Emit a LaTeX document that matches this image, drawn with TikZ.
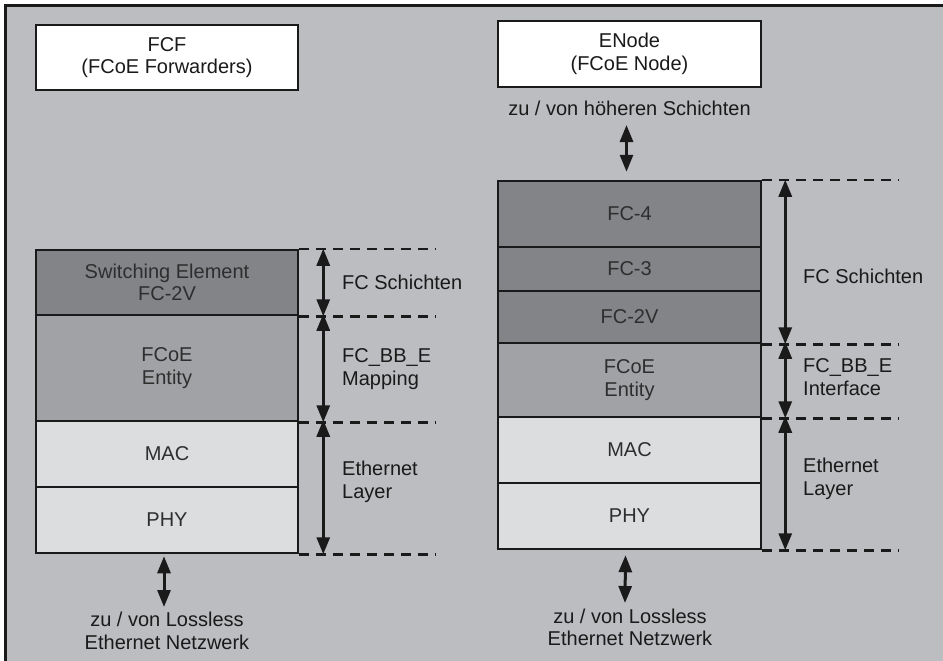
\documentclass[tikz,border=0pt]{standalone}
\usepackage{fontspec}
\setmainfont{Liberation Sans}
\usetikzlibrary{arrows.meta,positioning}
\definecolor{bggray}{HTML}{BCBDC0}
\definecolor{fcgray}{HTML}{838488}
\definecolor{entgray}{HTML}{A1A2A5}
\definecolor{ethgray}{HTML}{DCDDDF}
\definecolor{ink}{HTML}{1A1A1A}
\definecolor{boxtext}{HTML}{2E2E2E}
\begin{document}
\begin{tikzpicture}[x=1pt,y=-1pt,
  every node/.style={font=\fontsize{20}{22.5}\selectfont,text=ink},
  layer/.style={draw=ink,line width=2.5pt,rectangle,minimum width=262pt,inner sep=0pt,align=center,text=boxtext},
  guide/.style={draw=ink,line width=2.5pt,dash pattern=on 10pt off 7pt},
  span/.style={draw=ink,line width=3pt,{Triangle[length=17pt,width=13pt]}-{Triangle[length=17pt,width=13pt]}}]
  \useasboundingbox (0,0) rectangle (943,661);
  \clip (0,0) rectangle (943,661);
  \draw[line width=3pt,draw=ink,fill=bggray] (5,6) rectangle (980,700);
  % FCF side
  \begin{scope}[every node/.append style={layer}]
  \node[fill=white,text=ink,minimum height=65pt] (fcf) at (167,57.5) {FCF\\(FCoE Forwarders)};
  \node[fill=fcgray,minimum height=65pt] (swL) at (167,282.5) {Switching Element\\FC-2V};
  \node[fill=entgray,minimum height=106pt] (fcoeL) at (167,368) {FCoE\\Entity};
  \node[fill=ethgray,minimum height=66pt] (macL) at (167,454) {MAC};
  \node[fill=ethgray,minimum height=66pt] (phyL) at (167,520) {PHY};
  \end{scope}
  % ENode side
  \begin{scope}[every node/.append style={layer,minimum width=263pt}]
  \node[fill=white,text=ink,minimum height=66pt] (enode) at (629.5,54) {ENode\\(FCoE Node)};
  \node[fill=fcgray,minimum height=66pt] (fc4) at (629.5,214) {FC-4};
  \node[fill=fcgray,minimum height=44pt] (fc3) at (629.5,269) {FC-3};
  \node[fill=fcgray,minimum height=52pt] (fc2) at (629.5,317) {FC-2V};
  \node[fill=entgray,minimum height=74pt] (fcoeR) at (629.5,380) {FCoE\\Entity};
  \node[fill=ethgray,minimum height=66pt] (macR) at (629.5,450) {MAC};
  \node[fill=ethgray,minimum height=66pt] (phyR) at (629.5,516) {PHY};
  \end{scope}
  % dashed guides
  \begin{scope}[every path/.append style={guide}]
  \draw (swL.north east) -- +(137,0);
  \draw (swL.south east) -- +(137,0);
  \draw (fcoeL.south east) -- +(137,0);
  \draw (phyL.south east) -- +(137,0);
  \draw (fc4.north east) -- +(137,0);
  \draw (fc2.south east) -- +(137,0);
  \draw (fcoeR.south east) -- +(137,0);
  \draw (phyR.south east) -- +(137,0);
  \end{scope}
  % labels
  \begin{scope}[every node/.append style={anchor=west,align=left,inner sep=0pt}]
  \node (schL) at (342,282) {FC Schichten};
  \node (mapL) at (342,369) {FC\_BB\_E\\Mapping};
  \node (ethL) at (342,482) {Ethernet\\Layer};
  \node (schR) at (803,276) {FC Schichten};
  \node (ifR) at (803,377) {FC\_BB\_E\\Interface};
  \node (ethR) at (803,479) {Ethernet\\Layer};
  \end{scope}
  \node[align=center,inner sep=0pt] (upR) at (629.5,108) {zu / von höheren Schichten};
  \node[align=center,inner sep=0pt] (downL) at (167,631) {zu / von Lossless\\Ethernet Netzwerk};
  \node[align=center,inner sep=0pt] (downR) at (630,627.5) {zu / von Lossless\\Ethernet Netzwerk};
  % arrows
  \begin{scope}[every edge/.style={span}]
  \path ([xshift=24pt]swL.north east) edge ([xshift=24pt]swL.south east);
  \path ([xshift=24pt]fcoeL.north east) edge ([xshift=24pt]fcoeL.south east);
  \path ([xshift=24pt]macL.north east) edge ([xshift=24pt]phyL.south east);
  \path ([xshift=23pt]fc4.north east) edge ([xshift=23pt]fc2.south east);
  \path ([xshift=23pt]fcoeR.north east) edge ([xshift=23pt]fcoeR.south east);
  \path ([xshift=23pt]macR.north east) edge ([xshift=23pt]phyR.south east);
  \path ([xshift=-3pt,yshift=-17pt]upR.center) edge ([xshift=-3pt,yshift=8pt]fc4.north);
  \path ([xshift=-3pt,yshift=-2pt]phyL.south) edge ([xshift=-3pt,yshift=24pt]downL.center);
  \path ([xshift=-4pt,yshift=-5pt]phyR.south) edge ([xshift=-5pt,yshift=24.5pt]downR.center);
  \end{scope}
\end{tikzpicture}
\end{document}
